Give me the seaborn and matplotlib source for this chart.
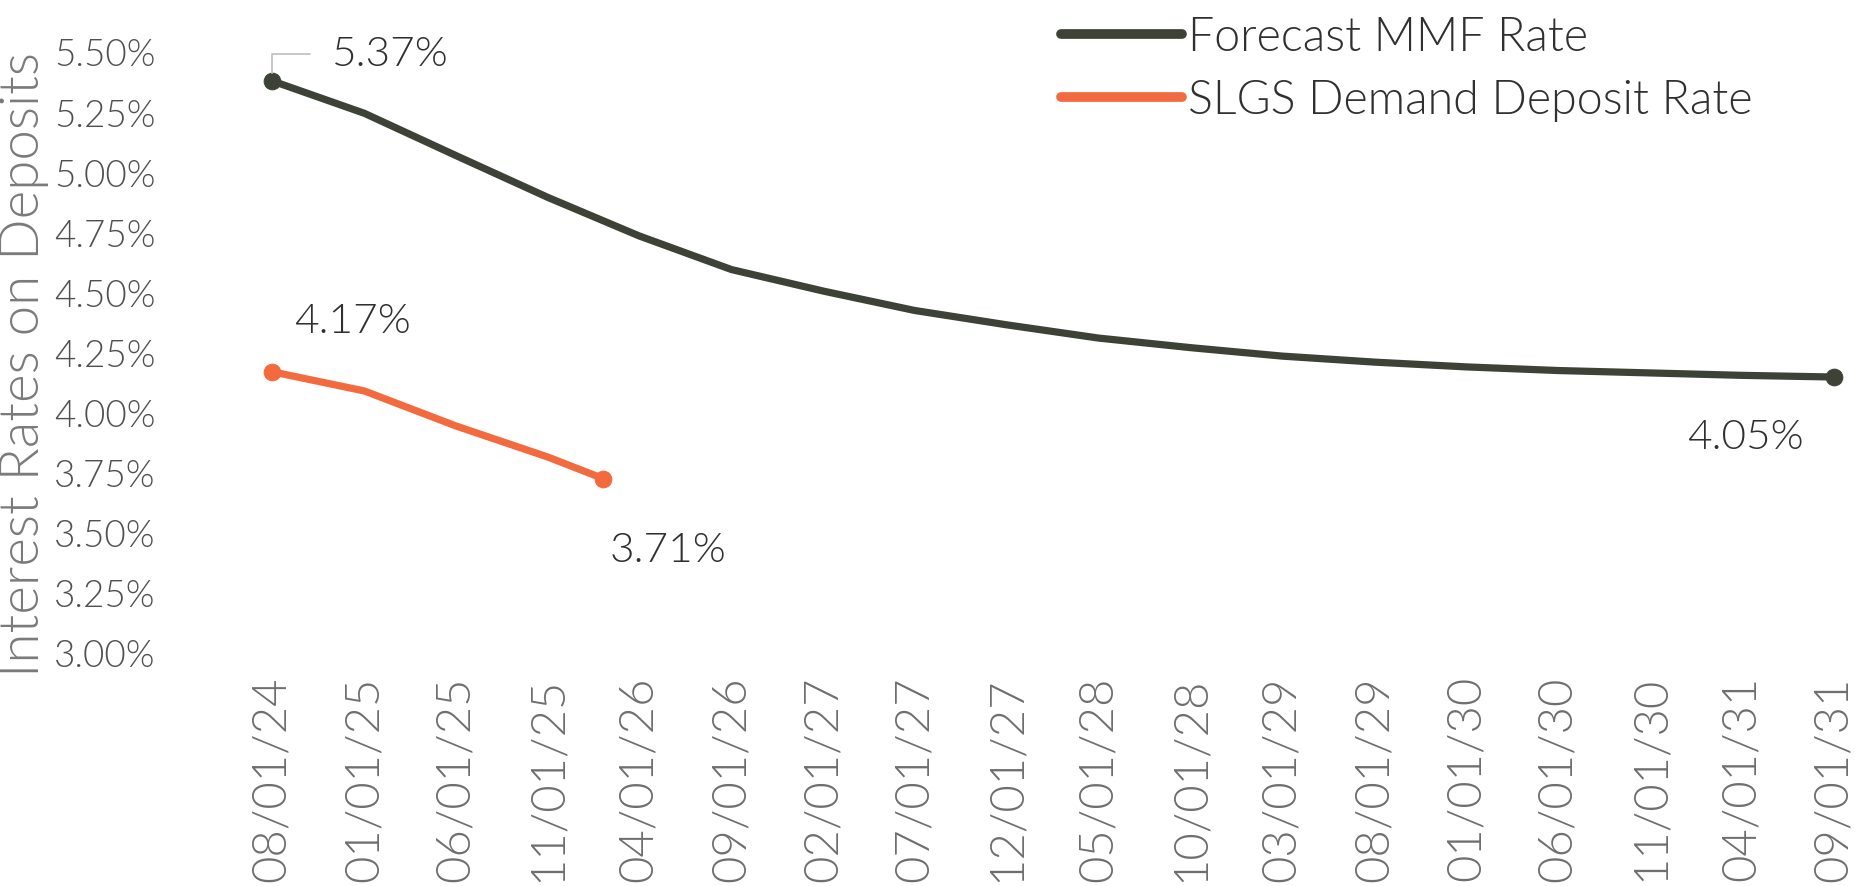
import matplotlib
matplotlib.use("Agg")
import matplotlib.pyplot as plt
from matplotlib.lines import Line2D
import seaborn as sns
import pandas as pd

# ---------------- data ----------------
tick_dates = ["2024-08-01", "2025-01-01", "2025-06-01", "2025-11-01", "2026-04-01",
              "2026-09-01", "2027-02-01", "2027-07-01", "2027-12-01", "2028-05-01",
              "2028-10-01", "2029-03-01", "2029-08-01", "2030-01-01", "2030-06-01",
              "2030-11-01", "2031-04-01", "2031-09-01"]
tick_labels = ["08/01/24", "01/01/25", "06/01/25", "11/01/25", "04/01/26",
               "09/01/26", "02/01/27", "07/01/27", "12/01/27", "05/01/28",
               "10/01/28", "03/01/29", "08/01/29", "01/01/30", "06/01/30",
               "11/01/30", "04/01/31", "09/01/31"]

mmf_dates = tick_dates
mmf_rates = [5.38, 5.245, 5.07, 4.895, 4.735, 4.595, 4.505, 4.425, 4.365, 4.31,
             4.27, 4.235, 4.21, 4.19, 4.175, 4.165, 4.155, 4.148]

slgs_dates = ["2024-08-01", "2025-01-01", "2025-06-01", "2025-11-01", "2026-02-01"]
slgs_rates = [4.17, 4.09, 3.945, 3.815, 3.725]

series_names = ["Forecast MMF Rate", "SLGS Demand Deposit Rate"]
series_colors = ["#3c4236", "#f26a3e"]

y_ticks = [3.00, 3.25, 3.50, 3.75, 4.00, 4.25, 4.50, 4.75, 5.00, 5.25, 5.50]

# data labels: (series, point index, text)
point_labels = [(0, 0, "5.37%"), (0, -1, "4.05%"), (1, 0, "4.17%"), (1, -1, "3.71%")]

# ---------------- frame ----------------
df = pd.concat([
    pd.DataFrame({"date": pd.to_datetime(mmf_dates), "rate": mmf_rates,
                  "series": series_names[0]}),
    pd.DataFrame({"date": pd.to_datetime(slgs_dates), "rate": slgs_rates,
                  "series": series_names[1]}),
], ignore_index=True)

sns.set_style("white")
plt.rcParams["font.family"] = ["Lato", "DejaVu Sans"]

W, H = 1855, 887
fig = plt.figure(figsize=(W / 100, H / 100), dpi=100)
ax = fig.add_axes([272 / W, 1 - 654 / H, (1834 - 272) / W, (654 - 53) / H])

palette = dict(zip(series_names, series_colors))
sns.lineplot(data=df, x="date", y="rate", hue="series", palette=palette,
             linewidth=5.2, marker="o", markersize=12, markevery=[0, -1],
             legend=False, ax=ax, clip_on=False, estimator=None, sort=True)
for ln in ax.lines:
    ln.set_markeredgecolor(ln.get_color())
    ln.set_solid_capstyle("round")
    ln.set_solid_joinstyle("round")

ax.set_ylim(3.0, 5.5)
xd = pd.to_datetime(tick_dates)
ax.set_xlim(xd[0], xd[-1])

ax.set_yticks(y_ticks)
ax.set_yticklabels([f"{v:.2f}%" for v in y_ticks], fontweight=300)
ax.set_xticks(xd)
ax.set_xticklabels(tick_labels, rotation=90, ha="center", va="top",
                   fontsize=34, fontweight=300, color="#6e6e6e")
ax.tick_params(axis="y", length=0, pad=84, labelsize=26.5, labelcolor="#505050")
ax.tick_params(axis="x", length=0, pad=16)

sns.despine(ax=ax, left=True, bottom=True, top=True, right=True)
ax.grid(False)

ax.set_xlabel("")
ax.set_ylabel("Interest Rates on Deposits", fontsize=39.3, fontweight=300,
              color="#7a7a7a", va="center", ha="center")
ax.yaxis.set_label_coords((24 - 272) / (1834 - 272), (654 - 365) / (654 - 53))

# data labels
series_data = [(mmf_dates, mmf_rates), (slgs_dates, slgs_rates)]
offsets = {"5.37%": (118, 27), "4.05%": (-89, -59), "4.17%": (80, 51), "3.71%": (65, -71)}
for s, idx, txt in point_labels:
    d, r = series_data[s]
    xy = (pd.to_datetime(d[idx]), r[idx])
    ax.annotate(txt, xy=xy, xytext=offsets[txt], textcoords="offset pixels",
                ha="center", va="center", fontsize=30.5, fontweight=300,
                color="#303030")
    if txt == "5.37%":
        ax.annotate("", xy=xy, xytext=(38, 27), textcoords="offset pixels",
                    arrowprops=dict(arrowstyle="-", color="#c4c4c4", lw=1.3,
                                    connectionstyle="angle,angleA=0,angleB=90,rad=0",
                                    shrinkA=0, shrinkB=6))

# legend
handles = [Line2D([], [], color=c, lw=7) for c in series_colors]
leg = ax.legend(handles, series_names, loc="upper left",
                bbox_to_anchor=(1061 / W, 1 - 17 / H), bbox_transform=fig.transFigure,
                frameon=False, fontsize=33.5, handlelength=2.6, handletextpad=0.13,
                labelspacing=0.45, borderpad=0, borderaxespad=0)
for t in leg.get_texts():
    t.set_color("#303030")
    t.set_fontweight(300)

fig.savefig("out.png", dpi=100, facecolor="white")
